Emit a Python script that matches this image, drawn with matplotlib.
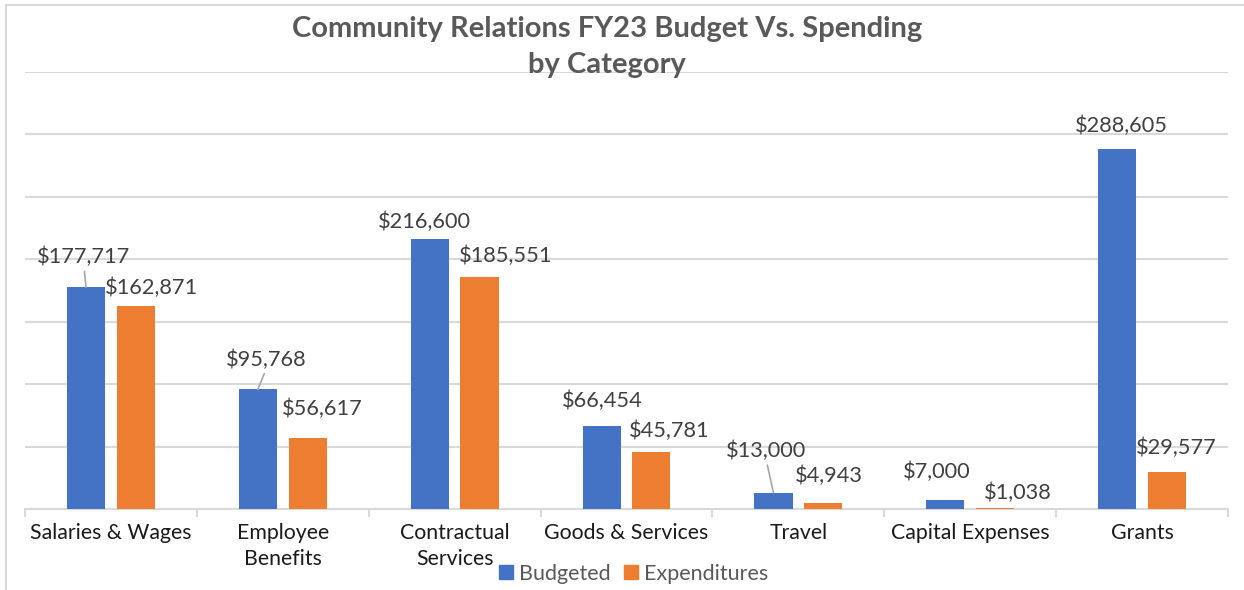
import numpy as np
import matplotlib.pyplot as plt
from matplotlib.lines import Line2D

categories = ["Salaries & Wages", "Employee\nBenefits", "Contractual\nServices",
              "Goods & Services", "Travel", "Capital Expenses", "Grants"]
budgeted = [177717, 95768, 216600, 66454, 13000, 7000, 288605]
expenditures = [162871, 56617, 185551, 45781, 4943, 1038, 29577]

# label offsets in pixels (dx, dy) from the bar top, as placed in the original
budget_offsets = [(-2, 30), (8, 30), (-5, 17), (1, 25), (-7, 42), (-9, 28), (4, 23)]
spend_offsets = [(16, 18), (15, 29), (26, 21), (18, 21), (6, 27), (23, 15), (9, 24)]
leader = [True, True, False, False, True, False, False]

blue = "#4472C4"
orange = "#ED7D31"
grid_c = "#D9D9D9"

plt.rcParams["font.family"] = ["Lato", "DejaVu Sans"]

fig = plt.figure(figsize=(12.44, 5.90), dpi=100)
ax = fig.add_axes([25 / 1244, 81 / 590, 1203 / 1244, 437 / 590])

x = np.arange(len(categories))
w = 0.222
off = 0.145
ax.bar(x - off, budgeted, w, color=blue, zorder=3)
ax.bar(x + off, expenditures, w, color=orange, zorder=3)

ax.set_xlim(-0.5, len(categories) - 0.5)
ax.set_ylim(0, 350000)
ax.set_yticks(np.arange(0, 350001, 50000))
ax.yaxis.grid(True, color=grid_c, linewidth=1.5, zorder=0)
ax.tick_params(axis="y", left=False, labelleft=False)
for s in ["top", "right", "left"]:
    ax.spines[s].set_visible(False)
ax.spines["bottom"].set_color(grid_c)
ax.spines["bottom"].set_linewidth(1.5)

ax.set_xticks(x)
ax.set_xticklabels(categories, fontsize=15.3, color="#1a1a1a", linespacing=1.4)
ax.tick_params(axis="x", length=0, pad=10)
ax.set_xticks(np.arange(-0.5, len(categories)), minor=True)
ax.tick_params(axis="x", which="minor", length=6, width=1.5, color=grid_c)


def fmt(v):
    return "${:,}".format(v)


for i in range(len(categories)):
    dx, dy = budget_offsets[i]
    props = None
    if leader[i]:
        props = dict(arrowstyle="-", color="#A6A6A6", lw=1.2,
                     shrinkA=1, shrinkB=0, relpos=(0.5, 0.0))
    ax.annotate(fmt(budgeted[i]), (x[i] - off, budgeted[i]),
                xytext=(dx, dy), textcoords="offset pixels",
                ha="center", va="center", fontsize=15.7, color="#404040",
                arrowprops=props)
    dx, dy = spend_offsets[i]
    ax.annotate(fmt(expenditures[i]), (x[i] + off, expenditures[i]),
                xytext=(dx, dy), textcoords="offset pixels",
                ha="center", va="center", fontsize=15.7, color="#404040")

fig.text(607 / 1244, 1 - 29 / 590, "Community Relations FY23 Budget Vs. Spending",
         ha="center", va="center", fontsize=21, fontweight="bold", color="#595959")
fig.text(607 / 1244, 1 - 65 / 590, "by Category",
         ha="center", va="center", fontsize=21, fontweight="bold", color="#595959")

handles = [Line2D([], [], marker="s", linestyle="", markersize=10, color=blue),
           Line2D([], [], marker="s", linestyle="", markersize=10, color=orange)]
fig.legend(handles, ["Budgeted", "Expenditures"], loc="center",
           bbox_to_anchor=(632 / 1244, 1 - 574 / 590), ncol=2, frameon=False,
           fontsize=15.5, labelcolor="#595959", handletextpad=0.1,
           columnspacing=0.45, handlelength=1.0)

# chart frame
fig.add_artist(Line2D([6 / 1244, 6 / 1244], [0, 1 - 5 / 590], color=grid_c, lw=1.5))
fig.add_artist(Line2D([6 / 1244, 1], [1 - 5 / 590, 1 - 5 / 590], color=grid_c, lw=1.5))

fig.savefig("out.png", dpi=100)
